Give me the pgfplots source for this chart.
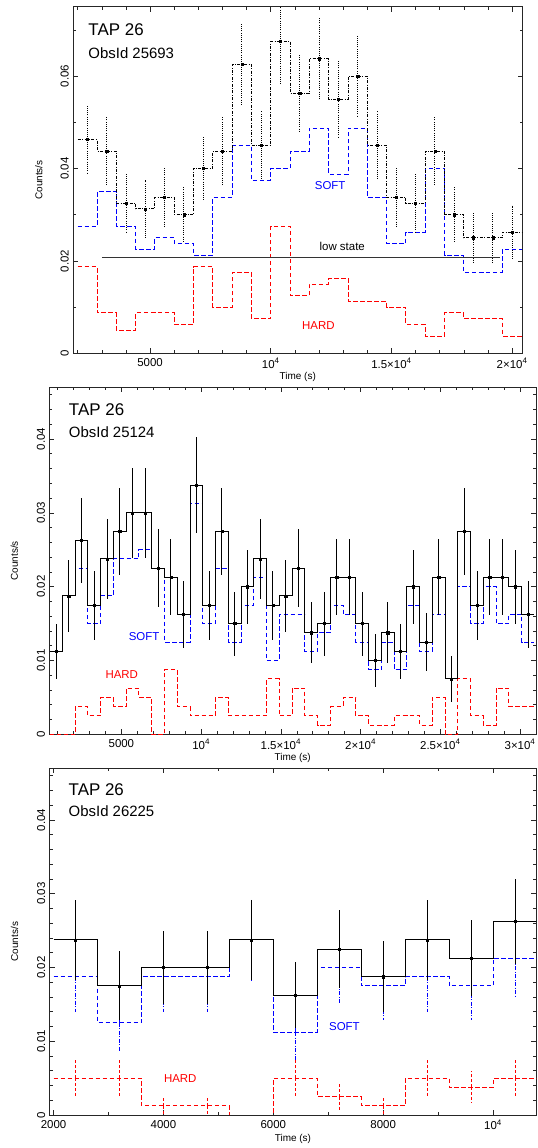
\documentclass[border=0pt]{standalone}
\usepackage{fontspec}
\setmainfont{Liberation Sans}
\usepackage{pgfplots}
\pgfplotsset{compat=1.18}
\definecolor{softblue}{RGB}{0,0,255}
\definecolor{hardred}{RGB}{255,0,0}

\pgfplotsset{
  lc/.style={
    scale only axis, anchor=south west, clip=true,
    scaled x ticks=false, scaled y ticks=false,
    tick align=inside, major tick length=5bp, minor tick length=3bp,
    axis line style={line width=0.9bp, black!85},
    tick style={line width=0.6bp, black!85},
    ticklabel style={font=\fontsize{11.5}{13}\selectfont},
    yticklabel style={rotate=90, anchor=south, inner ysep=4bp},
    xticklabel style={yshift=-1.5bp},
    label style={font=\fontsize{11.5}{13}\selectfont},
    xlabel={Time (s)}, ylabel={Counts/s},
    every axis x label/.style={at={(axis description cs:0.5,0)}, anchor=center, yshift=-24bp},
  },
  tot/.style={const plot, no marks, color=black, line width=0.9bp},
  sft/.style={const plot, no marks, color=softblue, line width=0.9bp, dash pattern=on 4.5bp off 2.5bp},
  hrd/.style={const plot, no marks, color=hardred, line width=0.9bp, dash pattern=on 4.5bp off 2.5bp},
  pts/.style={only marks, mark=square*, mark size=1.1pt, color=black,
    error bars/y dir=both, error bars/y explicit, error bars/error mark=none,
    error bars/error bar style={line width=0.8bp, black}},
  ebar/.style={no marks, draw=none,
    error bars/y dir=both, error bars/y explicit, error bars/error mark=none,
    error bars/error bar style={#1}},
}
\newcommand{\fbig}{\fontsize{17}{19}\selectfont}
\newcommand{\fmid}{\fontsize{15}{17}\selectfont}
\newcommand{\flab}{\fontsize{11.5}{13}\selectfont}

\begin{document}
\begin{tikzpicture}
\useasboundingbox (0,0) rectangle (538bp,1148bp);

% ---------------- ObsId 25693 ----------------
\begin{axis}[lc, at={(73bp,794.7bp)}, width=449.5bp, height=346.6bp,
  xmin=1805, xmax=20430, ymin=0, ymax=0.075,
  xtick={5000,10000,15000,20000},
  xticklabels={5000, 10\textsuperscript{4}, 1.5×10\textsuperscript{4}, 2×10\textsuperscript{4}},
  minor xtick={2000,3000,...,20000},
  ytick={0,0.02,0.04,0.06}, yticklabels={0,0.02,0.04,0.06},
  minor ytick={0.01,0.03,0.05,0.07},
  every axis y label/.style={at={(axis description cs:-0.076,0.5)}, rotate=90, anchor=center},
]
\addplot[hrd] coordinates {
 (2000,0.01875)(2800,0.00875)(3600,0.005)(4400,0.00875)(5200,0.00875)(6000,0.00625)
 (6800,0.01875)(7600,0.01)(8400,0.0175)(9200,0.0075)(10000,0.0275)(10800,0.0125)
 (11600,0.015)(12400,0.01625)(13200,0.01125)(14000,0.01125)(14800,0.01)(15600,0.00625)
 (16400,0.00375)(17200,0.00875)(18000,0.0075)(18800,0.0075)(19600,0.00375)(20400,0.00375)};
\addplot[sft] coordinates {
 (2000,0.0275)(2800,0.035)(3600,0.0275)(4400,0.0225)(5200,0.025)(6000,0.02375)
 (6800,0.02125)(7600,0.03375)(8400,0.045)(9200,0.0375)(10000,0.04)(10800,0.04375)
 (11600,0.04875)(12400,0.03875)(13200,0.04875)(14000,0.03375)(14800,0.02375)(15600,0.02625)
 (16400,0.04)(17200,0.02125)(18000,0.0175)(18800,0.0175)(19600,0.0225)(20400,0.0225)};
\addplot[tot, dash pattern=on 3bp off 1.5bp on 0.8bp off 1.5bp] coordinates {
 (2000,0.04625)(2800,0.04375)(3600,0.0325)(4400,0.03125)(5200,0.03375)(6000,0.03)
 (6800,0.04)(7600,0.04375)(8400,0.0625)(9200,0.045)(10000,0.0675)(10800,0.05625)
 (11600,0.06375)(12400,0.055)(13200,0.06)(14000,0.045)(14800,0.03375)(15600,0.0325)
 (16400,0.04375)(17200,0.03)(18000,0.025)(18800,0.025)(19600,0.02625)(20400,0.02625)};
\addplot[pts, error bars/error bar style={line width=0.8bp, black, dash pattern=on 1bp off 1.2bp}] coordinates {
 (2400,0.04625)+-(0,0.0076) (3200,0.04375)+-(0,0.0074) (4000,0.0325)+-(0,0.00637)
 (4800,0.03125)+-(0,0.00625) (5600,0.03375)+-(0,0.0065) (6400,0.03)+-(0,0.00612)
 (7200,0.04)+-(0,0.00707) (8000,0.04375)+-(0,0.0074) (8800,0.0625)+-(0,0.00884)
 (9600,0.045)+-(0,0.0075) (10400,0.0675)+-(0,0.00919) (11200,0.05625)+-(0,0.00839)
 (12000,0.06375)+-(0,0.00893) (12800,0.055)+-(0,0.00829) (13600,0.06)+-(0,0.00866)
 (14400,0.045)+-(0,0.0075) (15200,0.03375)+-(0,0.0065) (16000,0.0325)+-(0,0.00637)
 (16800,0.04375)+-(0,0.0074) (17600,0.03)+-(0,0.00612) (18400,0.025)+-(0,0.00559)
 (19200,0.025)+-(0,0.00559) (20000,0.02625)+-(0,0.00573)};
\addplot[black!80, line width=1bp, no marks] coordinates {(3000,0.0207)(19500,0.0207)};
\node[font=\flab] at (axis cs:12960,0.0231) {low state};
\node[font=\flab, text=softblue] at (axis cs:12460,0.0362) {SOFT};
\node[font=\flab, text=hardred] at (axis cs:11970,0.0060) {HARD};
\node[font=\fbig, anchor=west, inner sep=0pt] at (rel axis cs:0.034,0.935) {TAP 26};
\node[font=\fmid, anchor=west, inner sep=0pt] at (rel axis cs:0.034,0.867) {ObsId 25693};
\end{axis}

% ---------------- ObsId 25124 ----------------
\begin{axis}[lc, at={(49.3bp,413.7bp)}, width=486.7bp, height=347bp,
  xmin=480, xmax=31000, ymin=0, ymax=0.047,
  xtick={5000,10000,15000,20000,25000,30000},
  xticklabels={5000, 10\textsuperscript{4}, 1.5×10\textsuperscript{4}, 2×10\textsuperscript{4}, 2.5×10\textsuperscript{4}, 3×10\textsuperscript{4}},
  minor xtick={1000,2000,...,31000},
  ytick={0,0.01,0.02,0.03,0.04}, yticklabels={0,0.01,0.02,0.03,0.04},
  minor ytick={0.002,0.004,0.006,0.008,0.012,0.014,0.016,0.018,0.022,0.024,0.026,0.028,0.032,0.034,0.036,0.038,0.042,0.044,0.046},
  every axis y label/.style={at={(axis description cs:-0.072,0.5)}, rotate=90, anchor=center},
]
\addplot[hrd] coordinates {
 (500,0)(1300,0)(2100,0.00375)(2900,0.0025)(3700,0.005)(4500,0.00375)(5300,0.00625)
 (6100,0.005)(6900,0)(7700,0.00875)(8500,0.00375)(9300,0.0025)(10100,0.0025)(10900,0.005)
 (11700,0.0025)(12500,0.0025)(13300,0.0025)(14100,0.0075)(14900,0.0025)(15700,0.00625)
 (16500,0.0025)(17300,0.00125)(18100,0.00375)(18900,0.005)(19700,0.0025)(20500,0.00125)
 (21300,0.00125)(22100,0.0025)(22900,0.0025)(23700,0.00125)(24500,0.005)(25300,0)
 (26100,0.0075)(26900,0.0025)(27700,0.00125)(28500,0.00625)(29300,0.00375)(30100,0.00375)
 (30900,0.00375)};
\addplot[sft] coordinates {
 (500,0.01125)(1300,0.01875)(2100,0.0225)(2900,0.015)(3700,0.01875)(4500,0.02375)(5300,0.02375)
 (6100,0.025)(6900,0.0225)(7700,0.0125)(8500,0.0125)(9300,0.03125)(10100,0.015)(10900,0.0225)
 (11700,0.0125)(12500,0.0175)(13300,0.02125)(14100,0.01)(14900,0.01625)(15700,0.01625)
 (16500,0.01125)(17300,0.01375)(18100,0.0175)(18900,0.01625)(19700,0.0125)(20500,0.00875)
 (21300,0.0125)(22100,0.00875)(22900,0.0175)(23700,0.01125)(24500,0.01625)(25300,0.0075)
 (26100,0.02)(26900,0.015)(27700,0.02)(28500,0.015)(29300,0.01625)(30100,0.0125)
 (30900,0.0125)};
\addplot[tot] coordinates {
 (500,0.01125)(1300,0.01875)(2100,0.02625)(2900,0.0175)(3700,0.02375)(4500,0.0275)(5300,0.03)
 (6100,0.03)(6900,0.0225)(7700,0.02125)(8500,0.01625)(9300,0.03375)(10100,0.0175)(10900,0.0275)
 (11700,0.015)(12500,0.02)(13300,0.02375)(14100,0.0175)(14900,0.01875)(15700,0.0225)
 (16500,0.01375)(17300,0.015)(18100,0.02125)(18900,0.02125)(19700,0.015)(20500,0.01)
 (21300,0.01375)(22100,0.01125)(22900,0.02)(23700,0.0125)(24500,0.02125)(25300,0.0075)
 (26100,0.0275)(26900,0.0175)(27700,0.02125)(28500,0.02125)(29300,0.02)(30100,0.01625)
 (30900,0.01625)};
\addplot[pts] coordinates {
 (900,0.01125)+-(0,0.00375) (1700,0.01875)+-(0,0.00484) (2500,0.02625)+-(0,0.00573)
 (3300,0.0175)+-(0,0.00468) (4100,0.02375)+-(0,0.00545) (4900,0.0275)+-(0,0.00586)
 (5700,0.03)+-(0,0.00612) (6500,0.03)+-(0,0.00612) (7300,0.0225)+-(0,0.0053)
 (8100,0.02125)+-(0,0.00515) (8900,0.01625)+-(0,0.00451) (9700,0.03375)+-(0,0.0065)
 (10500,0.0175)+-(0,0.00468) (11300,0.0275)+-(0,0.00586) (12100,0.015)+-(0,0.00433)
 (12900,0.02)+-(0,0.005) (13700,0.02375)+-(0,0.00545) (14500,0.0175)+-(0,0.00468)
 (15300,0.01875)+-(0,0.00484) (16100,0.0225)+-(0,0.0053) (16900,0.01375)+-(0,0.00415)
 (17700,0.015)+-(0,0.00433) (18500,0.02125)+-(0,0.00515) (19300,0.02125)+-(0,0.00515)
 (20100,0.015)+-(0,0.00433) (20900,0.01)+-(0,0.00354) (21700,0.01375)+-(0,0.00415)
 (22500,0.01125)+-(0,0.00375) (23300,0.02)+-(0,0.005) (24100,0.0125)+-(0,0.00395)
 (24900,0.02125)+-(0,0.00515) (25700,0.0075)+-(0,0.00306) (26500,0.0275)+-(0,0.00586)
 (27300,0.0175)+-(0,0.00468) (28100,0.02125)+-(0,0.00515) (28900,0.02125)+-(0,0.00515)
 (29700,0.02)+-(0,0.005) (30500,0.01625)+-(0,0.00451)};
\node[font=\flab, text=softblue] at (axis cs:6424,0.0132) {SOFT};
\node[font=\flab, text=hardred] at (axis cs:5025,0.0081) {HARD};
\node[font=\fbig, anchor=west, inner sep=0pt] at (rel axis cs:0.04,0.935) {TAP 26};
\node[font=\fmid, anchor=west, inner sep=0pt] at (rel axis cs:0.04,0.872) {ObsId 25124};
\end{axis}

% ---------------- ObsId 26225 ----------------
\begin{axis}[lc, at={(49.5bp,33bp)}, width=486.9bp, height=346.7bp,
  xmin=1925, xmax=10790, ymin=0, ymax=0.047,
  xtick={2000,4000,6000,8000,10000},
  xticklabels={2000,4000,6000,8000,10\textsuperscript{4}},
  minor xtick={3000,5000,7000,9000},
  ytick={0,0.01,0.02,0.03,0.04}, yticklabels={0,0.01,0.02,0.03,0.04},
  minor ytick={0.002,0.004,0.006,0.008,0.012,0.014,0.016,0.018,0.022,0.024,0.026,0.028,0.032,0.034,0.036,0.038,0.042,0.044,0.046},
  every axis y label/.style={at={(axis description cs:-0.072,0.5)}, rotate=90, anchor=center},
]
\addplot[hrd] coordinates {
 (2000,0.005)(2800,0.005)(3600,0.00125)(4400,0.00125)(5200,0)(6000,0.005)
 (6800,0.0025)(7600,0.00125)(8400,0.005)(9200,0.00375)(10000,0.005)(10800,0.005)};
\addplot[ebar={draw=hardred, line width=0.8bp, dash pattern=on 3bp off 2bp}] coordinates {
 (2400,0.005)+-(0,0.0025) (3200,0.005)+-(0,0.0025) (4000,0.00125)+-(0,0.00125)
 (4800,0.00125)+-(0,0.00125) (6400,0.005)+-(0,0.0025) (7200,0.0025)+-(0,0.00177)
 (8000,0.00125)+-(0,0.00125) (8800,0.005)+-(0,0.0025) (9600,0.00375)+-(0,0.00217)
 (10400,0.005)+-(0,0.0025)};
\addplot[sft] coordinates {
 (2000,0.01875)(2800,0.0125)(3600,0.01875)(4400,0.01875)(5200,0.02375)(6000,0.01125)
 (6800,0.02)(7600,0.0175)(8400,0.01875)(9200,0.0175)(10000,0.02125)(10800,0.02125)};
\addplot[ebar={draw=softblue, line width=0.8bp, dash pattern=on 4bp off 1.5bp on 1bp off 1.5bp}] coordinates {
 (2400,0.01875)+-(0,0.00484) (3200,0.0125)+-(0,0.00395) (4000,0.01875)+-(0,0.00484)
 (4800,0.01875)+-(0,0.00484) (5600,0.02375)+-(0,0.00545) (6400,0.01125)+-(0,0.00375)
 (7200,0.02)+-(0,0.005) (8000,0.0175)+-(0,0.00468) (8800,0.01875)+-(0,0.00484)
 (9600,0.0175)+-(0,0.00468) (10400,0.02125)+-(0,0.00515)};
\addplot[tot] coordinates {
 (2000,0.02375)(2800,0.0175)(3600,0.02)(4400,0.02)(5200,0.02375)(6000,0.01625)
 (6800,0.0225)(7600,0.01875)(8400,0.02375)(9200,0.02125)(10000,0.02625)(10800,0.02625)};
\addplot[pts] coordinates {
 (2400,0.02375)+-(0,0.00545) (3200,0.0175)+-(0,0.00468) (4000,0.02)+-(0,0.005)
 (4800,0.02)+-(0,0.005) (5600,0.02375)+-(0,0.00545) (6400,0.01625)+-(0,0.00451)
 (7200,0.0225)+-(0,0.0053) (8000,0.01875)+-(0,0.00484) (8800,0.02375)+-(0,0.00545)
 (9600,0.02125)+-(0,0.00515) (10400,0.02625)+-(0,0.00573)};
\node[font=\flab, text=softblue] at (axis cs:7295,0.0120) {SOFT};
\node[font=\flab, text=hardred] at (axis cs:4306,0.0050) {HARD};
\node[font=\fbig, anchor=west, inner sep=0pt] at (rel axis cs:0.039,0.937) {TAP 26};
\node[font=\fmid, anchor=west, inner sep=0pt] at (rel axis cs:0.039,0.875) {ObsId 26225};
\end{axis}
\end{tikzpicture}
\end{document}
